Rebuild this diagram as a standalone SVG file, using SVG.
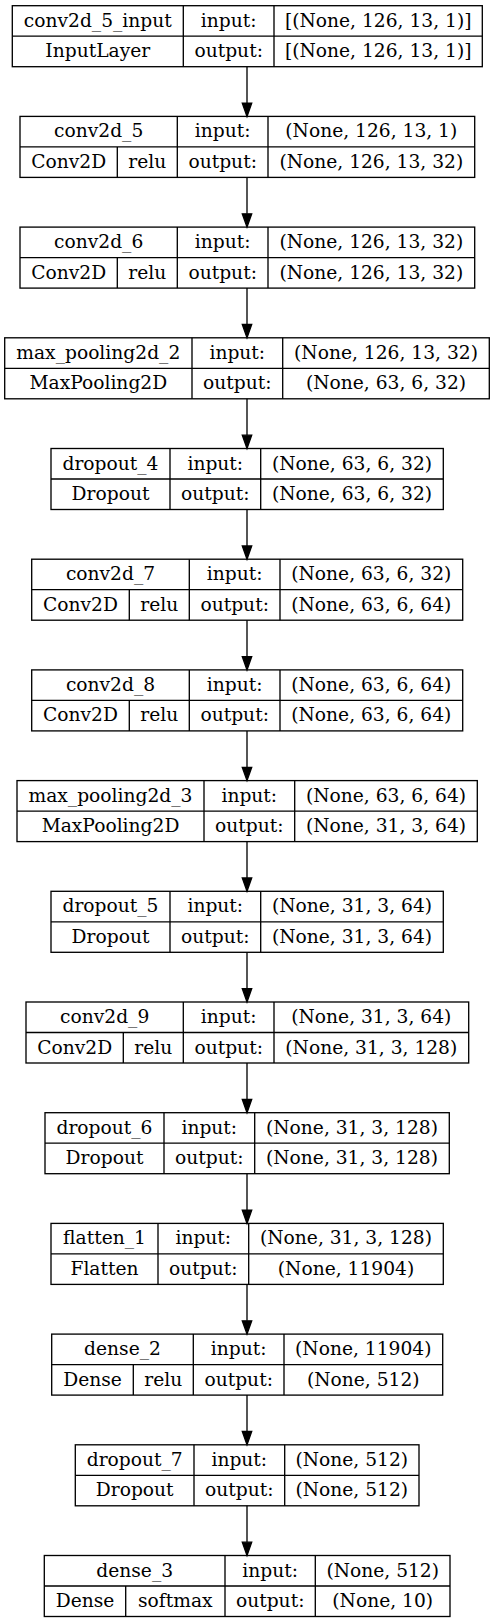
<svg xmlns="http://www.w3.org/2000/svg" width="495" height="1623" viewBox="0 0 495 1623">
<style>
.b{fill:none;stroke:#000;stroke-width:1.33}
text{font-family:"DejaVu Serif","Liberation Serif",serif;font-size:18.67px;text-anchor:middle;fill:#000}
.e{stroke:#000;stroke-width:1.33;fill:none}
.h{fill:#000;stroke:#000;stroke-width:1.33}
</style>
<rect width="495" height="1623" fill="#fff"/>
<g id="connectors">
<line class="e" x1="247" y1="66.7" x2="247" y2="103.1"/><polygon class="h" points="242.3,103.1 251.7,103.1 247,116.4"/>
<line class="e" x1="247" y1="177.4" x2="247" y2="213.8"/><polygon class="h" points="242.3,213.8 251.7,213.8 247,227.1"/>
<line class="e" x1="247" y1="288.1" x2="247" y2="324.5"/><polygon class="h" points="242.3,324.5 251.7,324.5 247,337.8"/>
<line class="e" x1="247" y1="398.8" x2="247" y2="435.2"/><polygon class="h" points="242.3,435.2 251.7,435.2 247,448.5"/>
<line class="e" x1="247" y1="509.5" x2="247" y2="545.9"/><polygon class="h" points="242.3,545.9 251.7,545.9 247,559.2"/>
<line class="e" x1="247" y1="620.2" x2="247" y2="656.6"/><polygon class="h" points="242.3,656.6 251.7,656.6 247,669.9"/>
<line class="e" x1="247" y1="730.9" x2="247" y2="767.3"/><polygon class="h" points="242.3,767.3 251.7,767.3 247,780.6"/>
<line class="e" x1="247" y1="841.6" x2="247" y2="878"/><polygon class="h" points="242.3,878 251.7,878 247,891.3"/>
<line class="e" x1="247" y1="952.3" x2="247" y2="988.7"/><polygon class="h" points="242.3,988.7 251.7,988.7 247,1002"/>
<line class="e" x1="247" y1="1063" x2="247" y2="1099.4"/><polygon class="h" points="242.3,1099.4 251.7,1099.4 247,1112.7"/>
<line class="e" x1="247" y1="1173.7" x2="247" y2="1210.1"/><polygon class="h" points="242.3,1210.1 251.7,1210.1 247,1223.4"/>
<line class="e" x1="247" y1="1284.4" x2="247" y2="1320.8"/><polygon class="h" points="242.3,1320.8 251.7,1320.8 247,1334.1"/>
<line class="e" x1="247" y1="1395.1" x2="247" y2="1431.5"/><polygon class="h" points="242.3,1431.5 251.7,1431.5 247,1444.8"/>
<line class="e" x1="247" y1="1505.8" x2="247" y2="1542.2"/><polygon class="h" points="242.3,1542.2 251.7,1542.2 247,1555.5"/>
</g>

<g id="conv2d_5_input" transform="translate(0,5.7)">
<rect class="b" x="12.3" y="0" width="470" height="61"/>
<path class="b" d="M12.3 30.5H482.3M183.3 0V61M274 0V61"/>
<text x="97.8" y="21">conv2d_5_input</text><text x="97.8" y="51.5">InputLayer</text>
<text x="228.7" y="21">input:</text><text x="228.7" y="51.5">output:</text>
<text x="378.2" y="21">[(None, 126, 13, 1)]</text><text x="378.2" y="51.5">[(None, 126, 13, 1)]</text>
</g>

<g id="conv2d_5" transform="translate(0,116.4)">
<rect class="b" x="20" y="0" width="454.7" height="61"/>
<path class="b" d="M20 30.5H474.7M177.3 0V61M268 0V61M117.3 30.5V61"/>
<text x="98.7" y="21">conv2d_5</text><text x="68.7" y="51.5">Conv2D</text><text x="147.3" y="51.5">relu</text>
<text x="222.7" y="21">input:</text><text x="222.7" y="51.5">output:</text>
<text x="371.3" y="21">(None, 126, 13, 1)</text><text x="371.3" y="51.5">(None, 126, 13, 32)</text>
</g>

<g id="conv2d_6" transform="translate(0,227.1)">
<rect class="b" x="20" y="0" width="454.7" height="61"/>
<path class="b" d="M20 30.5H474.7M177.3 0V61M268 0V61M117.3 30.5V61"/>
<text x="98.7" y="21">conv2d_6</text><text x="68.7" y="51.5">Conv2D</text><text x="147.3" y="51.5">relu</text>
<text x="222.7" y="21">input:</text><text x="222.7" y="51.5">output:</text>
<text x="371.3" y="21">(None, 126, 13, 32)</text><text x="371.3" y="51.5">(None, 126, 13, 32)</text>
</g>

<g id="max_pooling2d_2" transform="translate(0,337.8)">
<rect class="b" x="4.7" y="0" width="484.6" height="61"/>
<path class="b" d="M4.7 30.5H489.3M192 0V61M282.7 0V61"/>
<text x="98.3" y="21">max_pooling2d_2</text><text x="98.3" y="51.5">MaxPooling2D</text>
<text x="237.3" y="21">input:</text><text x="237.3" y="51.5">output:</text>
<text x="386" y="21">(None, 126, 13, 32)</text><text x="386" y="51.5">(None, 63, 6, 32)</text>
</g>

<g id="dropout_4" transform="translate(0,448.5)">
<rect class="b" x="51" y="0" width="392.3" height="61"/>
<path class="b" d="M51 30.5H443.3M170 0V61M260.7 0V61"/>
<text x="110.5" y="21">dropout_4</text><text x="110.5" y="51.5">Dropout</text>
<text x="215.3" y="21">input:</text><text x="215.3" y="51.5">output:</text>
<text x="352" y="21">(None, 63, 6, 32)</text><text x="352" y="51.5">(None, 63, 6, 32)</text>
</g>

<g id="conv2d_7" transform="translate(0,559.2)">
<rect class="b" x="31.7" y="0" width="431" height="61"/>
<path class="b" d="M31.7 30.5H462.7M189.3 0V61M280 0V61M129.3 30.5V61"/>
<text x="110.5" y="21">conv2d_7</text><text x="80.5" y="51.5">Conv2D</text><text x="159.3" y="51.5">relu</text>
<text x="234.7" y="21">input:</text><text x="234.7" y="51.5">output:</text>
<text x="371.3" y="21">(None, 63, 6, 32)</text><text x="371.3" y="51.5">(None, 63, 6, 64)</text>
</g>

<g id="conv2d_8" transform="translate(0,669.9)">
<rect class="b" x="31.7" y="0" width="431" height="61"/>
<path class="b" d="M31.7 30.5H462.7M189.3 0V61M280 0V61M129.3 30.5V61"/>
<text x="110.5" y="21">conv2d_8</text><text x="80.5" y="51.5">Conv2D</text><text x="159.3" y="51.5">relu</text>
<text x="234.7" y="21">input:</text><text x="234.7" y="51.5">output:</text>
<text x="371.3" y="21">(None, 63, 6, 64)</text><text x="371.3" y="51.5">(None, 63, 6, 64)</text>
</g>

<g id="max_pooling2d_3" transform="translate(0,780.6)">
<rect class="b" x="17" y="0" width="460.3" height="61"/>
<path class="b" d="M17 30.5H477.3M204 0V61M294.7 0V61"/>
<text x="110.5" y="21">max_pooling2d_3</text><text x="110.5" y="51.5">MaxPooling2D</text>
<text x="249.3" y="21">input:</text><text x="249.3" y="51.5">output:</text>
<text x="386" y="21">(None, 63, 6, 64)</text><text x="386" y="51.5">(None, 31, 3, 64)</text>
</g>

<g id="dropout_5" transform="translate(0,891.3)">
<rect class="b" x="51" y="0" width="392.3" height="61"/>
<path class="b" d="M51 30.5H443.3M170 0V61M260.7 0V61"/>
<text x="110.5" y="21">dropout_5</text><text x="110.5" y="51.5">Dropout</text>
<text x="215.3" y="21">input:</text><text x="215.3" y="51.5">output:</text>
<text x="352" y="21">(None, 31, 3, 64)</text><text x="352" y="51.5">(None, 31, 3, 64)</text>
</g>

<g id="conv2d_9" transform="translate(0,1002)">
<rect class="b" x="26" y="0" width="442.7" height="61"/>
<path class="b" d="M26 30.5H468.7M183.3 0V61M274 0V61M123.3 30.5V61"/>
<text x="104.7" y="21">conv2d_9</text><text x="74.7" y="51.5">Conv2D</text><text x="153.3" y="51.5">relu</text>
<text x="228.7" y="21">input:</text><text x="228.7" y="51.5">output:</text>
<text x="371.3" y="21">(None, 31, 3, 64)</text><text x="371.3" y="51.5">(None, 31, 3, 128)</text>
</g>

<g id="dropout_6" transform="translate(0,1112.7)">
<rect class="b" x="45" y="0" width="404.3" height="61"/>
<path class="b" d="M45 30.5H449.3M164 0V61M254.7 0V61"/>
<text x="104.5" y="21">dropout_6</text><text x="104.5" y="51.5">Dropout</text>
<text x="209.3" y="21">input:</text><text x="209.3" y="51.5">output:</text>
<text x="352" y="21">(None, 31, 3, 128)</text><text x="352" y="51.5">(None, 31, 3, 128)</text>
</g>

<g id="flatten_1" transform="translate(0,1223.4)">
<rect class="b" x="51" y="0" width="392.3" height="61"/>
<path class="b" d="M51 30.5H443.3M158 0V61M248.7 0V61"/>
<text x="104.5" y="21">flatten_1</text><text x="104.5" y="51.5">Flatten</text>
<text x="203.3" y="21">input:</text><text x="203.3" y="51.5">output:</text>
<text x="346" y="21">(None, 31, 3, 128)</text><text x="346" y="51.5">(None, 11904)</text>
</g>

<g id="dense_2" transform="translate(0,1334.1)">
<rect class="b" x="51.7" y="0" width="391" height="61"/>
<path class="b" d="M51.7 30.5H442.7M193.3 0V61M284 0V61M133.3 30.5V61"/>
<text x="122.5" y="21">dense_2</text><text x="92.5" y="51.5">Dense</text><text x="163.3" y="51.5">relu</text>
<text x="238.7" y="21">input:</text><text x="238.7" y="51.5">output:</text>
<text x="363.3" y="21">(None, 11904)</text><text x="363.3" y="51.5">(None, 512)</text>
</g>

<g id="dropout_7" transform="translate(0,1444.8)">
<rect class="b" x="75.3" y="0" width="343.7" height="61"/>
<path class="b" d="M75.3 30.5H419M194 0V61M284.7 0V61"/>
<text x="134.7" y="21">dropout_7</text><text x="134.7" y="51.5">Dropout</text>
<text x="239.3" y="21">input:</text><text x="239.3" y="51.5">output:</text>
<text x="351.8" y="21">(None, 512)</text><text x="351.8" y="51.5">(None, 512)</text>
</g>

<g id="dense_3" transform="translate(0,1555.5)">
<rect class="b" x="44.3" y="0" width="405.7" height="61"/>
<path class="b" d="M44.3 30.5H450M225 0V61M315.3 0V61M125.7 30.5V61"/>
<text x="134.7" y="21">dense_3</text><text x="85" y="51.5">Dense</text><text x="175.3" y="51.5">softmax</text>
<text x="270.2" y="21">input:</text><text x="270.2" y="51.5">output:</text>
<text x="382.7" y="21">(None, 512)</text><text x="382.7" y="51.5">(None, 10)</text>
</g>
</svg>
